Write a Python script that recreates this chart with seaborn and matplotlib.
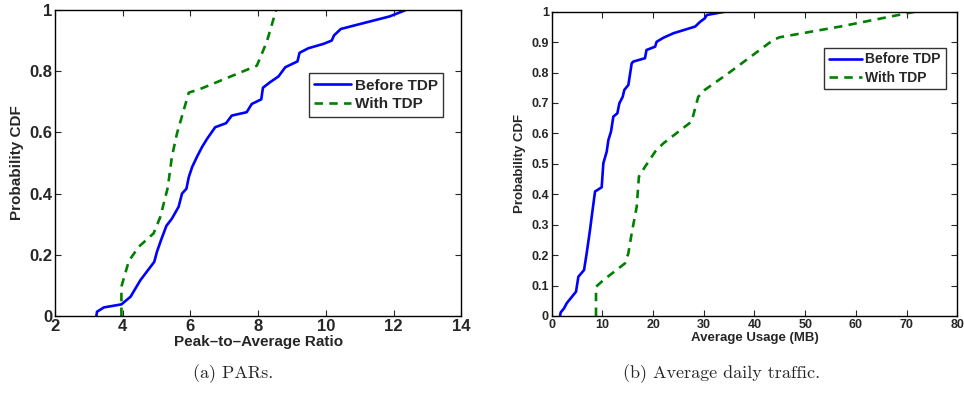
import numpy as np
import pandas as pd
import matplotlib
matplotlib.use("Agg")
import matplotlib.pyplot as plt
import seaborn as sns

# ---- data ----
par_before_x = [3.22, 3.24, 3.44, 3.96, 4.23, 4.52, 4.93, 5.01, 5.13, 5.29, 5.45, 5.65, 5.75, 5.88,
                5.95, 6.05, 6.19, 6.34, 6.49, 6.73, 7.05, 7.22, 7.66, 7.81, 8.09, 8.14, 8.35, 8.60,
                8.80, 9.16, 9.22, 9.48, 9.92, 10.17, 10.24, 10.44, 11.0, 11.88, 12.36]
par_before_y = [0.0, 0.014, 0.028, 0.038, 0.063, 0.117, 0.177, 0.21, 0.248, 0.295, 0.318, 0.357, 0.40,
                0.416, 0.454, 0.487, 0.52, 0.552, 0.579, 0.617, 0.63, 0.655, 0.666, 0.693, 0.708,
                0.746, 0.764, 0.783, 0.813, 0.832, 0.86, 0.875, 0.889, 0.90, 0.917, 0.938, 0.954,
                0.979, 1.0]
par_with_x = [3.96, 3.96, 4.18, 4.47, 4.91, 5.11, 5.33, 5.45, 5.60, 5.95, 6.29, 7.96, 8.25, 8.53]
par_with_y = [0.0, 0.096, 0.18, 0.226, 0.27, 0.324, 0.42, 0.52, 0.596, 0.73, 0.742, 0.818, 0.895, 1.0]

use_before_x = [1.64, 1.78, 2.43, 2.96, 4.8, 5.26, 6.38, 6.9, 7.56, 7.89, 8.55, 9.86, 10.19, 10.85,
                11.18, 11.7, 12.16, 12.95, 13.35, 14.0, 14.33, 15.12, 15.78, 16.1, 18.4, 18.7,
                20.4, 20.7, 22.0, 24.0, 28.3, 29.3, 30.2, 30.6, 34.2]
use_before_y = [0.0, 0.012, 0.025, 0.042, 0.08, 0.129, 0.151, 0.206, 0.283, 0.326, 0.409, 0.423,
                0.502, 0.54, 0.578, 0.606, 0.655, 0.666, 0.699, 0.72, 0.743, 0.759, 0.83, 0.836,
                0.847, 0.874, 0.885, 0.901, 0.914, 0.929, 0.951, 0.967, 0.978, 0.989, 1.0]
use_with_x = [8.74, 8.74, 10.2, 14.46, 15.12, 15.78, 16.77, 17.2, 18.4, 20.4, 22.0, 27.6, 28.9,
              30.2, 34.8, 43.7, 45.0, 56.9, 71.7]
use_with_y = [0.0, 0.096, 0.118, 0.173, 0.206, 0.272, 0.359, 0.458, 0.49, 0.54, 0.567, 0.639, 0.72,
              0.743, 0.797, 0.907, 0.916, 0.951, 1.0]

series_names = ["Before TDP", "With TDP"]
left_xticks = [2, 4, 6, 8, 10, 12, 14]
left_yticks = [0, 0.2, 0.4, 0.6, 0.8, 1]
left_yticklabels = ["0", "0.2", "0.4", "0.6", "0.8", "1"]
right_xticks = [0, 10, 20, 30, 40, 50, 60, 70, 80]
right_yticks = [0, 0.1, 0.2, 0.3, 0.4, 0.5, 0.6, 0.7, 0.8, 0.9, 1]
right_yticklabels = ["0", "0.1", "0.2", "0.3", "0.4", "0.5", "0.6", "0.7", "0.8", "0.9", "1"]

def make_df(bx, by, wx, wy):
    d1 = pd.DataFrame({"x": bx, "y": by, "s": series_names[0]})
    d2 = pd.DataFrame({"x": wx, "y": wy, "s": series_names[1]})
    return pd.concat([d1, d2], ignore_index=True)

df_par = make_df(par_before_x, par_before_y, par_with_x, par_with_y)
df_use = make_df(use_before_x, use_before_y, use_with_x, use_with_y)

sns.set_style("ticks")
plt.rcParams["font.family"] = ["Liberation Sans", "DejaVu Sans"]
plt.rcParams["font.weight"] = "bold"

fig = plt.figure(figsize=(9.64, 3.95), dpi=100)
ax1 = fig.add_axes([0.0571, 0.200, 0.4215, 0.7747])
ax2 = fig.add_axes([0.5723, 0.200, 0.4207, 0.7705])

palette = {"Before TDP": "#0000ff", "With TDP": "#008000"}
dashes = {"Before TDP": "", "With TDP": (3.2, 2.4)}

def draw(ax, df, tfs, lfs, gfs, xticks, yticks, yticklabels, xlim, xlabel, anchor):
    sns.lineplot(data=df, x="x", y="y", hue="s", style="s", palette=palette, dashes=dashes,
                 estimator=None, sort=False, units="s", lw=1.9, ax=ax, legend=True)
    ax.set_xlim(*xlim)
    ax.set_ylim(0, 1)
    ax.set_xticks(xticks)
    ax.set_xticklabels([str(t) for t in xticks], fontsize=tfs, fontweight="bold")
    ax.set_yticks(yticks)
    ax.set_yticklabels(yticklabels, fontsize=tfs, fontweight="bold")
    ax.tick_params(direction="in", top=True, right=True, length=4, width=0.8, pad=2)
    for s in ax.spines.values():
        s.set_visible(True)
        s.set_linewidth(1.0)
        s.set_color("black")
    ax.set_xlabel(xlabel, fontsize=lfs, fontweight="bold", labelpad=1)
    ax.set_ylabel("Probability CDF", fontsize=lfs, fontweight="bold", labelpad=4)
    leg = ax.legend(loc="upper left", bbox_to_anchor=anchor, fontsize=gfs, frameon=True,
                    fancybox=False, edgecolor="black", handlelength=2.4, handletextpad=0.25,
                    borderpad=0.35, labelspacing=0.3, borderaxespad=0.0)
    leg.get_frame().set_linewidth(1.0)
    for t in leg.get_texts():
        t.set_fontweight("bold")
    return leg

draw(ax1, df_par, 12, 11, 11, left_xticks, left_yticks, left_yticklabels,
     (2, 14), "Peak\u2013to\u2013Average Ratio", (0.625, 0.793))
draw(ax2, df_use, 9, 9.5, 10, right_xticks, right_yticks, right_yticklabels,
     (0, 80), "Average Usage (MB)", (0.671, 0.882))

fig.text(0.242, 0.055, "(a) PARs.", fontsize=13, family=["cmr10", "DejaVu Serif"],
         ha="center", va="center", fontweight="normal")
fig.text(0.748, 0.055, "(b) Average daily traffic.", fontsize=13, family=["cmr10", "DejaVu Serif"],
         ha="center", va="center", fontweight="normal")

fig.savefig("out.png", dpi=100)
